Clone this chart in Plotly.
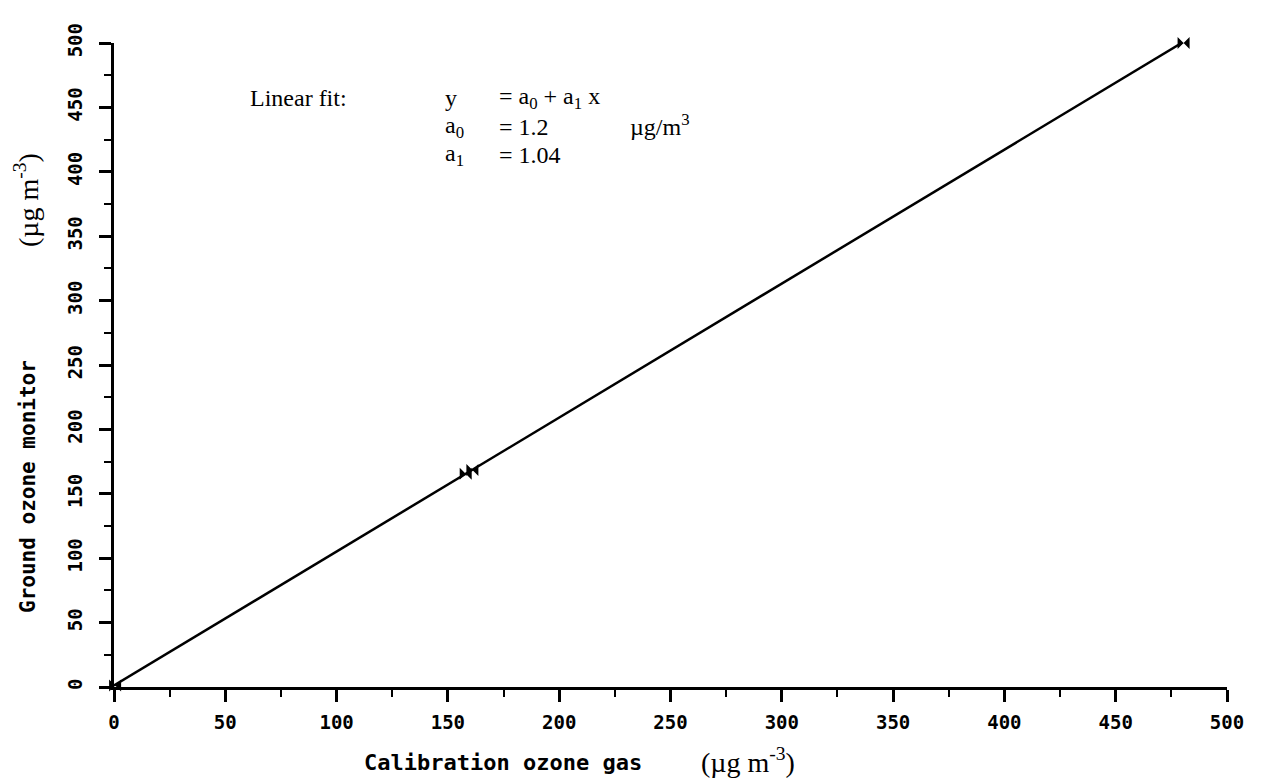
import plotly.graph_objects as go

# ---- data ----
calib_x = [0.5, 158, 161, 480.5]          # calibration ozone gas (µg m-3)
monitor_y = [1.2, 165.5, 168.5, 500]      # ground ozone monitor (µg m-3)
a0 = 1.2
a1 = 1.04
fit_x = [0, 480]
fit_y = [a0 + a1 * v for v in fit_x]

x_ticks = [0, 50, 100, 150, 200, 250, 300, 350, 400, 450, 500]
y_ticks = [0, 50, 100, 150, 200, 250, 300, 350, 400, 450, 500]

# ---- layout geometry (page body has an 8px offset) ----
OFF = 8
W, H = 1269 - OFF, 778 - OFF
L, R, T, B = 114 - OFF, 42, 43 - OFF, 91
PW, PH = W - L - R, H - T - B

def px(x):  # window pixel -> paper
    return (x - OFF - L) / PW

def py(y):
    return (H - B - (y - OFF)) / PH

mono_tick = dict(family="DejaVu Sans Mono", size=19, color="black", weight="bold")
mono_title = dict(family="DejaVu Sans Mono", size=21, color="black", weight="bold")
serif = dict(family="Liberation Serif", size=24, color="black")
unit_font = dict(family="Liberation Serif", size=28, color="black")

fig = go.Figure()
fig.add_trace(go.Scatter(x=fit_x, y=fit_y, mode="lines",
                         line=dict(color="black", width=2.5),
                         cliponaxis=False,
                         showlegend=False, hoverinfo="skip"))
fig.add_trace(go.Scatter(x=calib_x, y=monitor_y, mode="markers",
                         marker=dict(symbol="bowtie", size=12, color="black"),
                         cliponaxis=False, showlegend=False))

axis_common = dict(
    range=[0, 500], showgrid=False, zeroline=False,
    showline=True, linecolor="black", linewidth=2.5,
    ticks="outside", ticklen=12, tickwidth=2.5, tickcolor="black",
    tickfont=mono_tick,
    minor=dict(ticks="outside", ticklen=7, tickwidth=2, tickcolor="black", dtick=25),
)
fig.update_xaxes(tickvals=x_ticks, ticktext=[str(v) for v in x_ticks],
                 ticklabelstandoff=4, **axis_common)
fig.update_yaxes(tickvals=y_ticks, ticktext=[str(v) for v in y_ticks],
                 tickangle=-90, ticklabelstandoff=10, **axis_common)

ann = []
def add(text, x, y, font, xanchor="left", angle=0):
    ann.append(dict(text=text, x=px(x), y=py(y), xref="paper", yref="paper",
                    xanchor=xanchor, yanchor="middle", showarrow=False,
                    font=font, textangle=angle))

# axis titles
add("Calibration ozone gas", 503, 762, dict(mono_title, size=22), xanchor="center")
add("(µg m<sup>-3</sup>)", 748, 760, unit_font, xanchor="center")
add("Ground ozone monitor", 28, 487, mono_title, xanchor="center", angle=-90)
add("(µg m<sup>-3</sup>)", 26, 200, unit_font, xanchor="center", angle=-90)

# fit annotation
add("Linear fit:", 248, 98, serif)
add("y", 443, 98, serif)
add("= a<sub>0</sub> + a<sub>1</sub> x", 497, 98, serif)
add("a<sub>0</sub>", 443, 127, serif)
add(f"= {a0}", 497, 127, serif)
add("µg/m<sup>3</sup>", 628, 125, serif)
add("a<sub>1</sub>", 443, 155, serif)
add(f"= {a1}", 497, 155, serif)

fig.update_layout(
    width=W, height=H,
    margin=dict(l=L, r=R, t=T, b=B, autoexpand=False),
    paper_bgcolor="white", plot_bgcolor="white",
    annotations=ann, showlegend=False,
)

fig.write_html("out.html")
